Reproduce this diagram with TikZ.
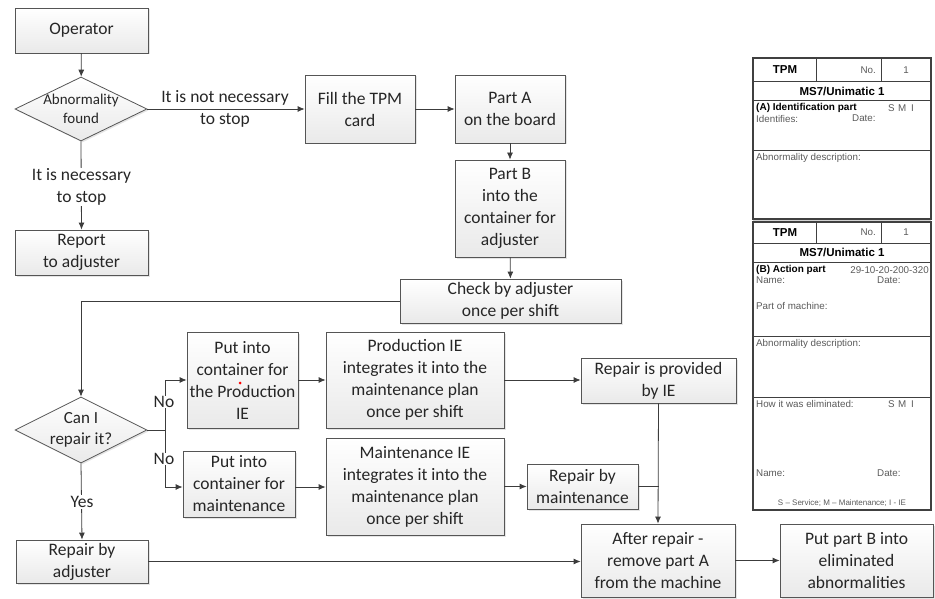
\documentclass[tikz,border=0pt]{standalone}
\usepackage{fontspec}
\setmainfont{Carlito}
\newfontfamily\cardfont{Liberation Sans}
\usetikzlibrary{arrows.meta,shapes.geometric,shadows,calc}
\definecolor{ln}{HTML}{3C3C3C}
\definecolor{bd}{HTML}{555555}
\definecolor{txt}{HTML}{262626}
\definecolor{cg}{HTML}{5A5A5A}
\begin{document}
\begin{tikzpicture}[x=1pt,y=-1pt,
  box/.style={draw=bd, line width=0.8pt, top color=white, bottom color=gray!17,
    drop shadow={shadow xshift=1.5pt, shadow yshift=-1.5pt, fill=gray!40, opacity=0.5},
    align=center, font=\fontsize{17.5}{22}\selectfont, text=txt, inner sep=0pt},
  dia/.style={diamond, draw=bd, line width=0.8pt, top color=white, bottom color=gray!17,
    drop shadow={shadow xshift=1.5pt, shadow yshift=-1.5pt, fill=gray!40, opacity=0.5},
    inner sep=0pt},
  arr/.style={draw=ln, line width=0.8pt, -{Latex[length=7pt,width=6pt]}},
  ln/.style={draw=ln, line width=0.8pt},
  lbl/.style={font=\fontsize{17.5}{22}\selectfont, text=txt, align=center, inner sep=1pt},
  wlbl/.style={lbl, fill=white},
  ct/.style={font=\cardfont\fontsize{9.8}{11}\selectfont, text=cg, inner sep=0pt},
  cb/.style={font=\cardfont\bfseries\fontsize{10}{11}\selectfont, text=black, inner sep=0pt},
  ch/.style={font=\cardfont\bfseries\fontsize{11.5}{13}\selectfont, text=black, inner sep=0pt},
  cl/.style={draw=black!75, line width=0.7pt}
]
\useasboundingbox (0,0) rectangle (935,599);

% ---------- flow nodes ----------
\node[box, minimum width=133pt, minimum height=45pt] (op) at (81.5,30.5) {Operator};
\node[dia, minimum width=132pt, minimum height=64pt] (ab) at (81,109) {};
\node[lbl, font=\fontsize{15}{19}\selectfont] (abt) at (81,109) {Abnormality\\found};
\node[box, minimum width=133pt, minimum height=45pt] (rep) at (81.5,252.5) {Report\\to adjuster};
\node[box, minimum width=110pt, minimum height=68pt] (fill) at (360,109) {Fill the TPM\\card};
\node[box, minimum width=110pt, minimum height=68pt] (pa) at (510,109) {Part A\\on the board};
\node[box, minimum width=110pt, minimum height=97pt] (pb) at (510,208.5) {Part B\\into the\\container for\\adjuster};
\node[box, minimum width=221pt, minimum height=44pt] (chk) at (510.5,301) {Check by adjuster\\once per shift};
\node[dia, minimum width=132pt, minimum height=66pt] (can) at (81,430) {};
\node[lbl, font=\fontsize{17}{21}\selectfont] (cant) at (81,430) {Can I\\repair it?};
\node[box, minimum width=111pt, minimum height=96pt] (putp) at (242.5,380) {Put into\\container for\\the Production\\IE};
\node[box, minimum width=112pt, minimum height=66pt] (putm) at (239,484) {Put into\\container for\\maintenance};
\node[box, minimum width=178pt, minimum height=96pt] (pie) at (415,380) {Production IE\\integrates it into the\\maintenance plan\\once per shift};
\node[box, minimum width=178pt, minimum height=97pt] (mie) at (415,486.5) {Maintenance IE\\integrates it into the\\maintenance plan\\once per shift};
\node[box, minimum width=155pt, minimum height=45pt] (rie) at (658.5,380.5) {Repair is provided\\by IE};
\node[box, minimum width=111pt, minimum height=45pt] (rm) at (582.5,486.5) {Repair by\\maintenance};
\node[box, minimum width=154pt, minimum height=73pt] (aft) at (658,560.5) {After repair -\\remove part A\\from the machine};
\node[box, minimum width=153pt, minimum height=73pt] (pbe) at (856.5,560.5) {Put part B into\\eliminated\\abnormalities};
\node[box, minimum width=132pt, minimum height=43pt] (ra) at (82,561.5) {Repair by\\adjuster};
\fill[red] (240,383) circle (1.5pt);

% ---------- connectors ----------
\draw[arr] (op) -- (ab);
\draw[arr] (ab.east) -- (fill.west);
\node[lbl, inner sep=0pt] (l1) at (225,109) {It is not necessary\\to stop};
\draw[arr] (ab.south) -- (rep.north);
\node[wlbl] (l2) at (81.5,187) {It is necessary\\to stop};
\draw[arr] (fill) -- (pa);
\draw[arr] (pa) -- (pb);
\draw[arr] (pb) -- (chk);
\draw[arr] (chk.west) -| (can.north);
\coordinate (br) at (165,430);
\draw[ln] (can.east) -- (br);
\draw[arr] (br) |- (putp.west);
\draw[arr] (br) |- ($(putm.west)+(0,3)$);
\node[wlbl, inner sep=0.5pt] (no1) at (164,402) {No};
\node[wlbl, inner sep=0.5pt] (no2) at (164,459) {No};
\draw[arr] (putp) -- (pie);
\draw[arr] ($(putm.east)+(0,3)$) -- ($(mie.west)+(0,0.5)$);
\draw[arr] (pie.east) -- (pie.east -| rie.west);
\draw[arr] (mie.east) -- (rm.west);
\draw[arr] (rie.south) -- (aft.north);
\draw[ln] (rm.east) -- (rm.east -| rie.south);
\draw[arr] (can.south) -- (ra.north);
\node[wlbl] (yes) at (82,502) {Yes};
\draw[arr] (ra.east) -- (ra.east -| aft.west);
\draw[arr] (aft.east) -- (pbe.west);

% ---------- TPM card ----------
\fill[gray!35] (753,219) rectangle (931,222);
\draw[cl, line width=1.1pt] (753,58) rectangle (931,219);
\draw[cl] (753,81) -- (931,81);
\draw[cl] (753,100) -- (931,100);
\draw[cl] (816,58) -- (816,81);
\draw[cl] (881,58) -- (881,81);
\draw[cl] (753,150) -- (931,150);
\node[ch] (t1) at (785,70) {TPM};
\node[ct, anchor=east] (n1) at (876,70) {No.};
\node[ct] (o1) at (906,70) {1};
\node[ch] (m1) at (842,91) {MS7/Unimatic 1};
\node[cb, anchor=west] (a1) at (756,108) {(A) Identification part};
\node[ct, anchor=west] (s1) at (888,108) {S\,\,M\,\,\,I};
\node[ct, anchor=west] (i1) at (756,118.5) {Identifies:};
\node[ct, anchor=west] (d1) at (852,118.5) {Date:};
\node[ct, anchor=west] (ad1) at (756,158) {Abnormality description:};

\draw[cl, line width=1.1pt] (753,222) rectangle (931,510);
\draw[cl] (753,243) -- (931,243);
\draw[cl] (753,262) -- (931,262);
\draw[cl] (816,222) -- (816,243);
\draw[cl] (881,222) -- (881,243);
\draw[cl] (753,336) -- (931,336);
\draw[cl] (753,397) -- (931,397);
\node[ch] (t2) at (785,232.5) {TPM};
\node[ct, anchor=east] (n2) at (876,232.5) {No.};
\node[ct] (o2) at (906,232.5) {1};
\node[ch] (m2) at (842,252.5) {MS7/Unimatic 1};
\node[cb, anchor=west] (b2) at (756,270) {(B) Action part};
\node[ct, anchor=east] (c2) at (929,270) {29-10-20-200-320};
\node[ct, anchor=west] (na2) at (756,280.5) {Name:};
\node[ct, anchor=west] (d2) at (877,280.5) {Date:};
\node[ct, anchor=west] (pm2) at (756,306) {Part of machine:};
\node[ct, anchor=west] (ad2) at (756,344) {Abnormality description:};
\node[ct, anchor=west] (h2) at (756,404) {How it was eliminated:};
\node[ct, anchor=west] (s2) at (888,404) {S\,\,M\,\,\,I};
\node[ct, anchor=west] (na3) at (756,473) {Name:};
\node[ct, anchor=west] (d3) at (877,473) {Date:};
\node[ct, font=\cardfont\fontsize{8}{9}\selectfont] (leg) at (842,503) {S – Service; M – Maintenance; I - IE};
\end{tikzpicture}
\end{document}
